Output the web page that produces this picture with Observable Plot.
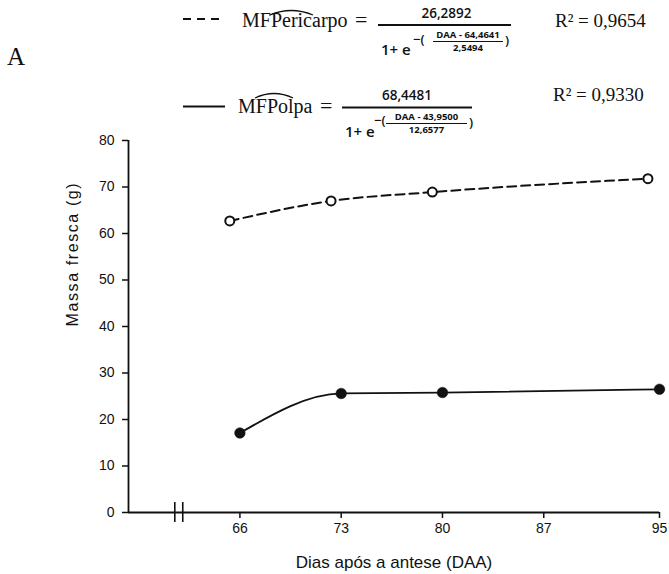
<!DOCTYPE html>
<html>
<head>
<meta charset="utf-8">
<script src="https://cdn.jsdelivr.net/npm/d3@7"></script>
<script src="https://cdn.jsdelivr.net/npm/@observablehq/plot@0.6"></script>
<style>
  html, body { margin: 0; padding: 0; background: #fff; }
  #wrap { width: 669px; height: 574px; position: relative; }
  #legend { display: block; overflow: visible; position: relative; z-index: 2; }
</style>
</head>
<body>
<div id="wrap">
  <svg id="legend" width="669" height="130"></svg>
  <div id="chart"></div>
</div>
<script>
// ---- Data ----
const daaPericarpo = [65.3, 72.3, 79.3, 94.2];
const mfPericarpo  = [62.7, 67.0, 68.9, 71.8];
const daaPolpa     = [66, 73, 80, 95];
const mfPolpa      = [17.1, 25.6, 25.8, 26.5];
const xTicks = [66, 73, 80, 87, 95];
const yTicks = [0, 10, 20, 30, 40, 50, 60, 70, 80];
const xDomain = [58.3, 95];
const yDomain = [0, 80];
const axisBreak = [61.5, 62.05];
const xLabel = "Dias após a antese (DAA)";
const yLabel = "Massa fresca (g)";
const panelLetter = "A";
const eqPericarpo = {name: "MFPericarpo", num: "26,2892", inner: "DAA - 64,4641", den: "2,5494", r2: "R² = 0,9654"};
const eqPolpa     = {name: "MFPolpa",     num: "68,4481", inner: "DAA - 43,9500", den: "12,6577", r2: "R² = 0,9330"};

const pericarpo = daaPericarpo.map((d, i) => ({daa: d, mf: mfPericarpo[i]}));
const polpa = daaPolpa.map((d, i) => ({daa: d, mf: mfPolpa[i]}));

// ---- Legend / equations (above the chart) ----
const serif = "'Liberation Serif', 'Times New Roman', serif";
const sans = "'Open Sans', 'Liberation Sans', sans-serif";
const lg = d3.select("#legend");
const ink = "#111";

lg.append("text").attr("x", 7).attr("y", 65).attr("font-family", serif).attr("font-size", 25).attr("fill", ink).text(panelLetter);

function equation(eq, o) {
  lg.append("line").attr("x1", o.sx1).attr("x2", o.sx2).attr("y1", o.sy).attr("y2", o.sy)
    .attr("stroke", ink).attr("stroke-width", 1.8).attr("stroke-dasharray", o.dashed ? "8,6" : null);
  lg.append("text").attr("x", o.nameX).attr("y", o.base).attr("font-family", serif).attr("font-size", 20)
    .attr("fill", ink).text(eq.name);
  lg.append("path").attr("d", o.hat).attr("fill", "none").attr("stroke", ink).attr("stroke-width", 1.3);
  lg.append("text").attr("x", o.eqX).attr("y", o.base).attr("font-family", serif).attr("font-size", 22)
    .attr("fill", ink).text("=");
  lg.append("text").attr("x", (o.bar1 + o.bar2) / 2 + o.numShift).attr("y", o.numY).attr("text-anchor", "middle")
    .attr("font-family", sans).attr("font-weight", 600).attr("font-size", 13.5).attr("fill", ink).text(eq.num);
  lg.append("line").attr("x1", o.bar1).attr("x2", o.bar2).attr("y1", o.barY).attr("y2", o.barY)
    .attr("stroke", ink).attr("stroke-width", 2);
  lg.append("text").attr("x", o.bar1 + 3).attr("y", o.denY).attr("font-family", sans).attr("font-weight", 600)
    .attr("font-size", 15).attr("fill", ink).text("1+ e");
  lg.append("text").attr("x", o.expX).attr("y", o.expY).attr("font-family", sans).attr("font-weight", 600)
    .attr("font-size", 13).attr("fill", ink).text("−(");
  const ic = (o.in1 + o.in2) / 2;
  lg.append("text").attr("x", ic).attr("y", o.inY).attr("text-anchor", "middle").attr("font-family", sans)
    .attr("font-weight", 700).attr("font-size", 9.5).attr("fill", ink).text(eq.inner);
  lg.append("line").attr("x1", o.in1).attr("x2", o.in2).attr("y1", o.inY + 3.5).attr("y2", o.inY + 3.5)
    .attr("stroke", ink).attr("stroke-width", 1);
  lg.append("text").attr("x", ic).attr("y", o.inY + 13).attr("text-anchor", "middle").attr("font-family", sans)
    .attr("font-weight", 700).attr("font-size", 9.5).attr("fill", ink).text(eq.den);
  lg.append("text").attr("x", o.in2 + 2).attr("y", o.inY + 7).attr("font-family", sans).attr("font-weight", 600)
    .attr("font-size", 13).attr("fill", ink).text(")");
  lg.append("text").attr("x", o.r2X).attr("y", o.r2Y).attr("font-family", serif).attr("font-size", 19)
    .attr("fill", ink).text(eq.r2);
}

equation(eqPericarpo, {
  dashed: true, sx1: 183, sx2: 222, sy: 19,
  nameX: 242, base: 27, hat: "M270,15 Q291,6 313,15", eqX: 355,
  bar1: 378, bar2: 511, barY: 25, numShift: 2, numY: 18, denY: 55,
  expX: 413, expY: 44, in1: 433, in2: 503, inY: 38,
  r2X: 555, r2Y: 27
});
equation(eqPolpa, {
  dashed: false, sx1: 183, sx2: 225, sy: 106.5,
  nameX: 238, base: 113, hat: "M255,98 Q274,89 293,98", eqX: 320,
  bar1: 342, bar2: 472, barY: 107.5, numShift: 0, numY: 100, denY: 137,
  expX: 374, expY: 125, in1: 386, in2: 467, inY: 120,
  r2X: 553, r2Y: 101
});

// ---- Chart ----
const plot = Plot.plot({
  width: 669,
  height: 444,
  marginTop: 10,
  marginBottom: 62,
  marginLeft: 128,
  marginRight: 10,
  style: {fontFamily: "'Liberation Sans', Arial, sans-serif", fontSize: "14px", color: "#111", background: "transparent", overflow: "visible"},
  x: {domain: xDomain, label: null},
  y: {domain: yDomain, label: null},
  marks: [
    Plot.axisX({ticks: xTicks, tickSize: 6, tickPadding: 5, tickFormat: d => String(d), label: null, fontSize: 14, strokeWidth: 1.5}),
    Plot.axisY({ticks: yTicks, tickSize: 6, tickPadding: 8, tickFormat: d => String(d), label: null, fontSize: 14, strokeWidth: 1.5}),
    Plot.ruleY([yDomain[0]], {x1: xDomain[0], x2: xDomain[1], stroke: "#111", strokeWidth: 1.8}),
    Plot.ruleX([xDomain[0]], {y1: yDomain[0], y2: yDomain[1], stroke: "#111", strokeWidth: 1.8}),
    Plot.ruleX(axisBreak, {y: yDomain[0], insetTop: -10, insetBottom: -10, stroke: "#111", strokeWidth: 1.6}),
    Plot.line(pericarpo, {x: "daa", y: "mf", curve: "monotone-x", stroke: "#111", strokeWidth: 2, strokeDasharray: "9,5"}),
    Plot.line(polpa, {x: "daa", y: "mf", curve: "monotone-x", stroke: "#111", strokeWidth: 1.8}),
    Plot.dot(pericarpo, {x: "daa", y: "mf", r: 4.5, fill: "white", stroke: "#111", strokeWidth: 2}),
    Plot.dot(polpa, {x: "daa", y: "mf", r: 5.3, fill: "#111", stroke: "#111", strokeWidth: 0.5}),
    Plot.text([xLabel], {frameAnchor: "bottom", dy: 55, fontSize: 17, fill: "#111"}),
    Plot.text([yLabel], {frameAnchor: "left", rotate: -90, dx: -56, fontSize: 16, fill: "#111"})
  ]
});
document.getElementById("chart").appendChild(plot);
d3.select(plot).selectAll("text").filter(function() { return this.textContent === yLabel; })
  .style("letter-spacing", "1.6px");
</script>
</body>
</html>
